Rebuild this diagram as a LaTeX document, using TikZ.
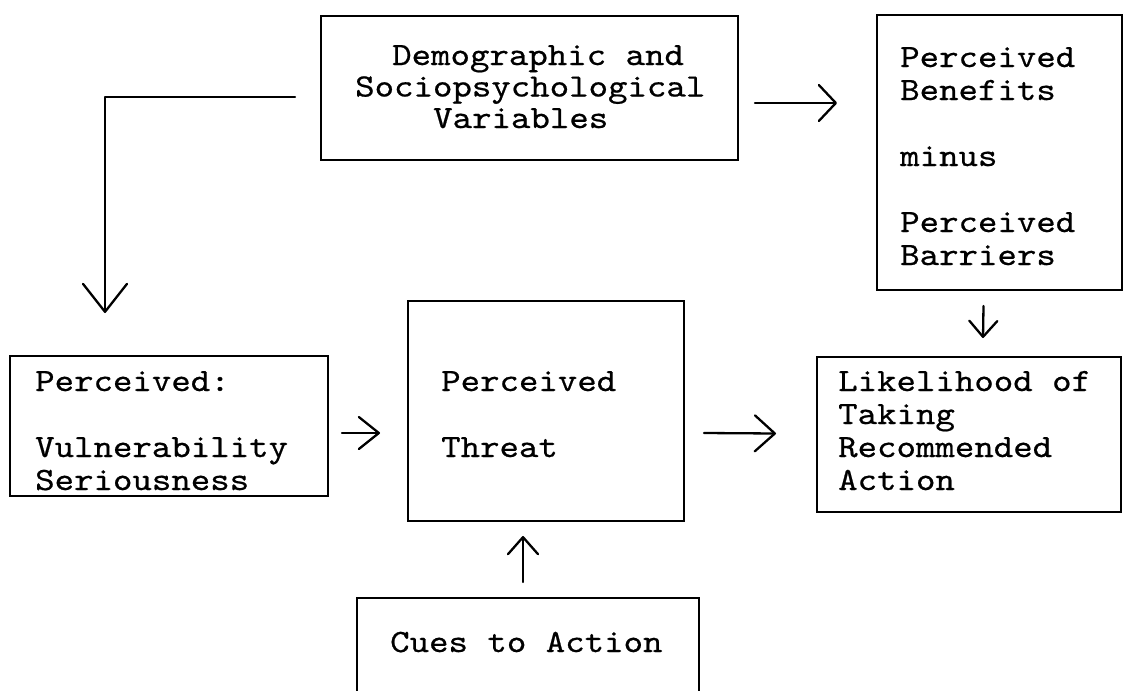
\documentclass[tikz,border=0pt]{standalone}
\usepackage{fontspec}
% typewriter face, widened to a 10-pitch look
\newfontfamily\typer{lmmono10-regular}[Extension=.otf, FakeStretch=1.14, FakeBold=0.6]
\usetikzlibrary{arrows.meta}
% stacked lines of typewriter text; baseline of the block is the first line
\newcommand\stacklines[2][33pt]{\vtop{\baselineskip=#1\lineskiplimit=-100pt\lineskip=0pt #2}}

\begin{document}
\begin{tikzpicture}[x=1pt,y=-1pt,
  box/.style={draw, line width=2.7pt, inner sep=0pt, outer sep=0pt, anchor=north west},
  txt/.style={anchor=base west, inner sep=0pt, font=\typer\fontsize{32.5}{33}\selectfont},
  conn/.style={line width=2.3pt, line cap=round, line join=round},
  ]
\useasboundingbox (0,0) rectangle (1125,691);
\clip (0,0) rectangle (1125,691);

% boxes
\node[box, minimum width=417pt, minimum height=144pt] (demo)     at (321,16)  {};
\node[box, minimum width=245pt, minimum height=275pt] (benefits) at (877,15)  {};
\node[box, minimum width=318pt, minimum height=140pt] (percv)    at (10,356)  {};
\node[box, minimum width=276pt, minimum height=220pt] (threat)   at (408,301) {};
\node[box, minimum width=304pt, minimum height=155pt] (likeli)   at (817,357) {};
\node[box, minimum width=342pt, minimum height=120pt] (cues)     at (357,598) {};

% box texts
\node[txt] (demotxt) at (355,65) {\stacklines[31.5pt]{\hbox{\kern37pt Demographic and}\hbox{Sociopsychological}\hbox{\kern78pt Variables}}};
\node[txt] (bentxt) at (900,67) {\stacklines{\hbox{Perceived}\hbox{Benefits}\hbox{}\hbox{minus}\hbox{}\hbox{Perceived}\hbox{Barriers}}};
\node[txt] (percvtxt) at (35,391) {\stacklines{\hbox{Perceived:}\hbox{}\hbox{Vulnerability}\hbox{Seriousness}}};
\node[txt] (threattxt) at (441,391) {\stacklines{\hbox{Perceived}\hbox{}\hbox{Threat}}};
\node[txt] (likelitxt) at (838,391) {\stacklines{\hbox{Likelihood of}\hbox{Taking}\hbox{Recommended}\hbox{Action}}};
\node[txt] (cuestxt) at (390,652) {Cues to Action};

% connectors
\draw[conn, -{Straight Barb[length=28pt,width=44pt,round]}]
  ([shift={(-26pt,-9pt)}]demo.west) -| ([shift={(95pt,43pt)}]percv.north west);
\draw[conn, -{Straight Barb[length=17pt,width=36pt,round]}]
  ([shift={(17pt,-15pt)}]demo.east) -- ([shift={(-40pt,49.5pt)}]benefits.west);
\draw[conn, -{Straight Barb[length=20pt,width=32pt,round]}]
  ([shift={(14pt,-7pt)}]percv.east) -- ([shift={(-28pt,-22pt)}]threat.west);
\draw[conn, -{Straight Barb[length=20pt,width=36pt,round]}]
  ([shift={(20pt,-22pt)}]threat.east) -- ([shift={(-41pt,1pt)}]likeli.west);
\draw[conn, -{Straight Barb[length=16pt,width=28pt,round]}]
  ([shift={(-16pt,-16pt)}]benefits.south) -- ([shift={(14pt,19pt)}]likeli.north);
\draw[conn, -{Straight Barb[length=17pt,width=30pt,round]}]
  ([shift={(-5pt,16pt)}]cues.north) -- ([shift={(-23pt,-15pt)}]threat.south);
\end{tikzpicture}
\end{document}
